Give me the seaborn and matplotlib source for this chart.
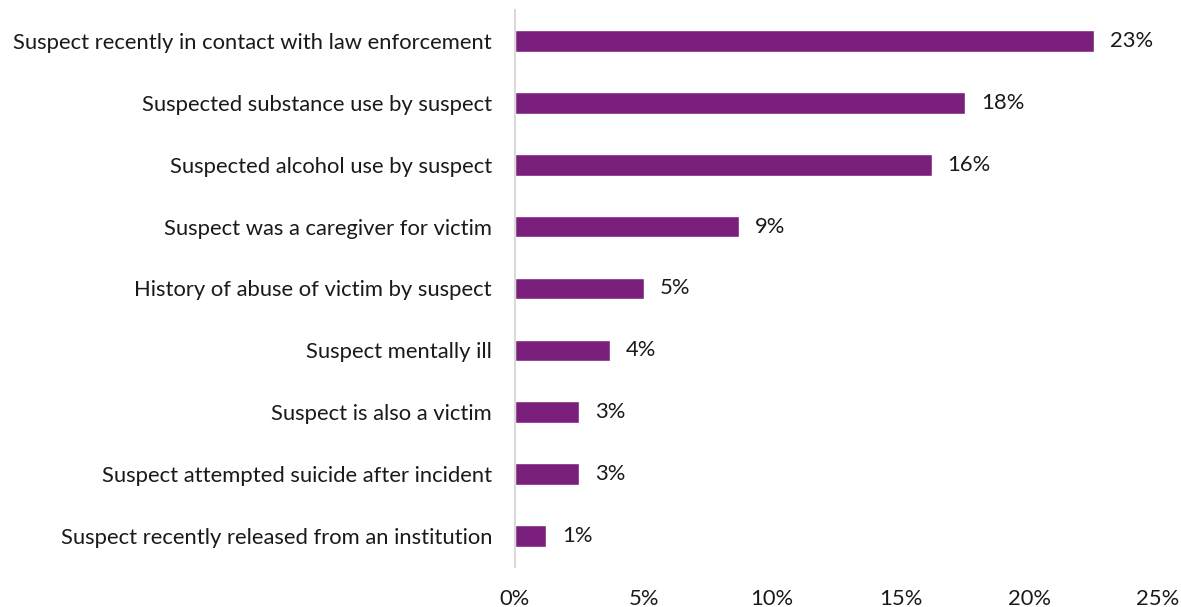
import matplotlib
matplotlib.use("Agg")
import matplotlib.pyplot as plt
import seaborn as sns
import pandas as pd

categories = [
    "Suspect recently in contact with law enforcement",
    "Suspected substance use by suspect",
    "Suspected alcohol use by suspect",
    "Suspect was a caregiver for victim",
    "History of abuse of victim by suspect",
    "Suspect mentally ill",
    "Suspect is also a victim",
    "Suspect attempted suicide after incident",
    "Suspect recently released from an institution",
]
values = [22.5, 17.5, 16.2, 8.7, 5.0, 3.7, 2.5, 2.5, 1.2]
value_labels = ["23%", "18%", "16%", "9%", "5%", "4%", "3%", "3%", "1%"]
x_ticks = [0, 5, 10, 15, 20, 25]
x_tick_labels = ["0%", "5%", "10%", "15%", "20%", "25%"]

sns.set_theme(style="white")
plt.rcParams["font.family"] = ["Lato", "DejaVu Sans"]

df = pd.DataFrame({"category": categories, "value": values})

fig = plt.figure(figsize=(11.81, 6.07), dpi=100)
ax = fig.add_axes([515 / 1181, 1 - 567 / 607, (1158 - 515) / 1181, (567 - 10) / 607])

sns.barplot(data=df, x="value", y="category", color="#7B1F7D", saturation=1,
            width=0.35, orient="h", ax=ax)

fs = 15.8
for i, (v, lab) in enumerate(zip(values, value_labels)):
    ax.text(v + 0.62, i, lab, va="center", ha="left", fontsize=fs, color="#1a1a1a")

ax.set_xlim(0, 25)
ax.set_ylim(8.5, -0.5)
ax.set_xticks(x_ticks)
ax.set_xticklabels(x_tick_labels, fontsize=fs, color="#1a1a1a")
ax.tick_params(axis="x", length=0, pad=16)
ax.tick_params(axis="y", length=0, pad=16.5, labelsize=fs, labelcolor="#1a1a1a")
ax.set_xlabel("")
ax.set_ylabel("")
for s in ["top", "right", "bottom"]:
    ax.spines[s].set_visible(False)
ax.spines["left"].set_color("#D9D9D9")
ax.spines["left"].set_linewidth(1.5)
ax.grid(False)

fig.savefig("out.png", dpi=100)
